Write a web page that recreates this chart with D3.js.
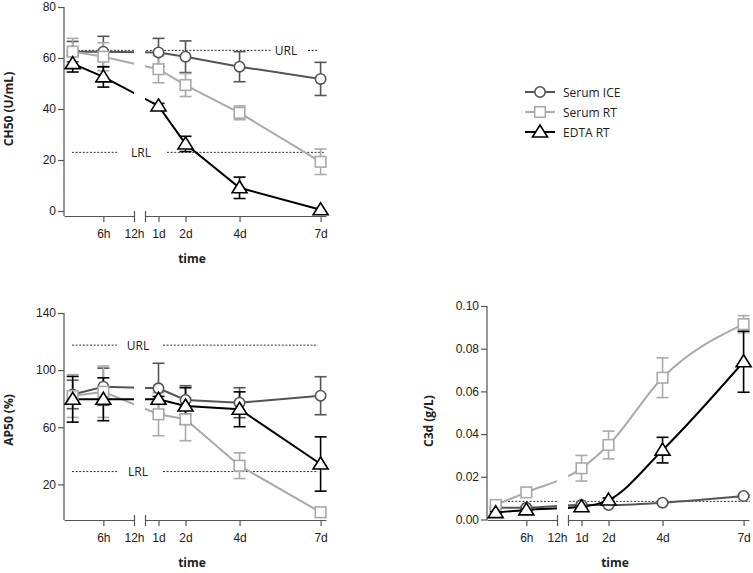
<!DOCTYPE html>
<html>
<head>
<meta charset="utf-8">
<script src="https://cdnjs.cloudflare.com/ajax/libs/d3/7.8.5/d3.min.js"></script>
<style>
  body { margin: 0; background: #fff; }
  svg { font-family: 'Open Sans', sans-serif; }
  .tick text { font-size: 12px; fill: #222; }
  .axis path, .axis line { stroke: #555; stroke-width: 1.2; }
  .title { font-size: 12px; font-weight: bold; fill: #222; }
  .legend text { font-size: 12px; fill: #222; }
</style>
</head>
<body>
<div class="visHolder"></div>
<script>
// sampling times (hours) and axis labels
var sampleHours = [0, 6, 24, 48, 96, 168];
var hourTicks = [6, 12],
    hourTickLabels = ['6h', '12h'];
var dayTicks = [1, 2, 4, 7],
    dayTickLabels = ['1d', '2d', '4d', '7d'];
var seriesNames = ['Serum ICE', 'Serum RT', 'EDTA RT'];

// CH50 (U/mL)
var ch50Ticks = [0, 20, 40, 60, 80];
var ch50Ice = [62.5, 62.5, 62.2, 60.5, 56.6, 51.8],
    ch50IceErr = [4, 6, 5.5, 6.2, 5.9, 6.5];
var ch50Rt = [62.5, 60.5, 55.6, 49.4, 38.5, 19.3],
    ch50RtErr = [5.2, 5.5, 5.3, 4.5, 2.7, 5];
var ch50Edta = [57.8, 52.6, 41.2, 26.3, 9.1, 0.5],
    ch50EdtaErr = [3.3, 4, 1, 3, 4.2, 0];
var ch50Url = 63, ch50Lrl = 23;

// AP50 (%)
var ap50Ticks = [20, 60, 100, 140];
var ap50Ice = [83, 88.4, 87.3, 79.1, 77.2, 82.1],
    ap50IceErr = [10, 13, 17.5, 10, 10.5, 13.3];
var ap50Rt = [81.9, 84.9, 69.1, 65.6, 33.1, 0.5],
    ap50RtErr = [15, 18, 15, 15, 9, 0];
var ap50Edta = [79.6, 79.6, 79.6, 74.9, 72.6, 34.3],
    ap50EdtaErr = [16, 15, 2, 12.8, 12.2, 19];
var ap50Url = 117.5, ap50Lrl = 29;

// C3d (g/L)
var c3dTicks = [0, 0.02, 0.04, 0.06, 0.08, 0.10];
var c3dIce = [0.0055, 0.0055, 0.0068, 0.0068, 0.0079, 0.011],
    c3dIceErr = [0.0005, 0.0005, 0.0005, 0.0005, 0.0005, 0.0005];
var c3dRt = [0.0068, 0.0127, 0.024, 0.0349, 0.0664, 0.0915],
    c3dRtErr = [0.001, 0.001, 0.006, 0.0065, 0.0093, 0.004];
var c3dEdta = [0.0032, 0.0045, 0.006, 0.0091, 0.0325, 0.0739],
    c3dEdtaErr = [0.0005, 0.0005, 0.0005, 0.001, 0.006, 0.0143];
var c3dRef = 0.0085;

var colors = ['#555', '#aaa', '#000'];
var shapes = ['circle', 'square', 'triangle'];

var svg = d3.select('.visHolder')
  .append('svg')
  .attr('width', 753)
  .attr('height', 573);

var panels = [
  { id: 'ch50', title: 'CH50 (U/mL)', axisX: 64, axisY: 216, yDomain: [0, 80], yRange: [211, 7],
    ticks: ch50Ticks, fmt: d3.format('d'), titleX: 13, titleY: 109, curve: d3.curveLinear,
    series: [[ch50Ice, ch50IceErr], [ch50Rt, ch50RtErr], [ch50Edta, ch50EdtaErr]],
    refs: [{ value: ch50Url, label: 'URL', segs: [[3, 208], [244, 254]], labelX: 222 },
           { value: ch50Lrl, label: 'LRL', segs: [[8, 54], [103, 261]], labelX: 77 }] },
  { id: 'ap50', title: 'AP50 (%)', axisX: 64, axisY: 520, yDomain: [0, 140], yRange: [513, 313],
    ticks: ap50Ticks, fmt: d3.format('d'), titleX: 13, titleY: 420, curve: d3.curveLinear,
    series: [[ap50Ice, ap50IceErr], [ap50Rt, ap50RtErr], [ap50Edta, ap50EdtaErr]],
    refs: [{ value: ap50Url, label: 'URL', segs: [[8, 54], [99, 254]], labelX: 74 },
           { value: ap50Lrl, label: 'LRL', segs: [[8, 54], [99, 254]], labelX: 74 }] },
  { id: 'c3d', title: 'C3d (g/L)', axisX: 487, axisY: 520, yDomain: [0, 0.1], yRange: [519.5, 306],
    ticks: c3dTicks, fmt: d3.format('.2f'), titleX: 433, titleY: 421, curve: d3.curveMonotoneX,
    series: [[c3dIce, c3dIceErr], [c3dRt, c3dRtErr], [c3dEdta, c3dEdtaErr]],
    refs: [{ value: c3dRef, label: '', segs: [[3, 263]], labelX: 0 }] }
];

function drawMarker(g, shape, x, y, color) {
  if (shape === 'circle') {
    g.append('circle').attr('cx', x).attr('cy', y).attr('r', 5.2)
      .attr('fill', '#fff').attr('stroke', color).attr('stroke-width', 1.6);
  } else if (shape === 'square') {
    g.append('rect').attr('x', x - 5.3).attr('y', y - 5.3).attr('width', 10.6).attr('height', 10.6)
      .attr('fill', '#fff').attr('stroke', color).attr('stroke-width', 1.6);
  } else {
    g.append('path').attr('d', 'M' + x + ',' + (y - 7) + 'L' + (x + 7.5) + ',' + (y + 5) + 'L' + (x - 7.5) + ',' + (y + 5) + 'Z')
      .attr('fill', '#fff').attr('stroke', color).attr('stroke-width', 1.6);
  }
}

panels.forEach(function(p) {
  var g = svg.append('g').attr('id', p.id);

  // broken time axis: hours up to 12h, then days
  var xHour = d3.scaleLinear().domain([-1.7, 12]).range([p.axisX, p.axisX + 70]);
  var xDay = d3.scaleLinear().domain([0.5, 7.2]).range([p.axisX + 81, p.axisX + 262]);
  var xPos = function(h) { return h <= 12 ? xHour(h) : xDay(h / 24); };
  var y = d3.scaleLinear().domain(p.yDomain).range(p.yRange);

  var clipId = 'clip-' + p.id;
  var clip = svg.append('clipPath').attr('id', clipId);
  clip.append('rect').attr('x', p.axisX - 20).attr('y', 0).attr('width', 90).attr('height', 573);
  clip.append('rect').attr('x', p.axisX + 81).attr('y', 0).attr('width', 200).attr('height', 573);

  // x axes
  var hourAxis = d3.axisBottom(xHour).tickValues(hourTicks).tickSize(6).tickPadding(7.5).tickSizeOuter(0)
    .tickFormat(function(d, i) { return hourTickLabels[i]; });
  var dayAxis = d3.axisBottom(xDay).tickValues([0.5].concat(dayTicks)).tickSize(6).tickPadding(7.5).tickSizeOuter(0)
    .tickFormat(function(d, i) { return i === 0 ? '' : dayTickLabels[i - 1]; });
  [hourAxis, dayAxis].forEach(function(ax) {
    var a = g.append('g').attr('class', 'axis')
      .attr('transform', 'translate(0,' + p.axisY + ')')
      .call(ax);
    a.selectAll('.tick').filter(function(d) { return d === 12 || d === 0.5; })
      .select('line').attr('y1', -5).attr('y2', 6);
  });

  // y axis
  var yAxis = d3.axisLeft(y).tickValues(p.ticks).tickSize(6).tickPadding(2).tickFormat(p.fmt);
  var ya = g.append('g').attr('class', 'axis')
    .attr('transform', 'translate(' + p.axisX + ',0)')
    .call(yAxis);
  ya.select('.domain').remove();
  ya.append('line').attr('x1', 0).attr('x2', 0)
    .attr('y1', p.yRange[1]).attr('y2', p.axisY)
    .attr('stroke', '#555').attr('stroke-width', 1.2);

  g.append('text').attr('class', 'title')
    .attr('transform', 'translate(' + p.titleX + ',' + p.titleY + ') rotate(-90)')
    .attr('text-anchor', 'middle')
    .text(p.title);
  g.append('text').attr('class', 'title')
    .attr('x', p.axisX + 128).attr('y', p.axisY + 47)
    .attr('text-anchor', 'middle')
    .text('time');

  // reference limits
  p.refs.forEach(function(r) {
    r.segs.forEach(function(s) {
      g.append('line')
        .attr('x1', p.axisX + s[0]).attr('x2', p.axisX + s[1])
        .attr('y1', y(r.value)).attr('y2', y(r.value))
        .attr('stroke', '#333').attr('stroke-width', 1)
        .attr('stroke-dasharray', '2,1.6')
        .attr('clip-path', 'url(#' + clipId + ')');
    });
    if (r.label) {
      g.append('text')
        .attr('x', p.axisX + r.labelX).attr('y', y(r.value) + 4.5)
        .attr('text-anchor', 'middle')
        .attr('font-size', '12px').attr('fill', '#222')
        .text(r.label);
    }
  });

  var line = d3.line()
    .x(function(d, i) { return xPos(sampleHours[i]); })
    .y(function(d) { return y(d); })
    .curve(p.curve);

  p.series.forEach(function(s, k) {
    g.append('path')
      .datum(s[0])
      .attr('d', line)
      .attr('fill', 'none')
      .attr('stroke', colors[k])
      .attr('stroke-width', 2)
      .attr('clip-path', 'url(#' + clipId + ')');
  });

  p.series.forEach(function(s, k) {
    var eg = g.append('g');
    s[0].forEach(function(v, i) {
      var e = s[1][i];
      if (!e) return;
      var x = xPos(sampleHours[i]);
      eg.append('line').attr('x1', x).attr('x2', x).attr('y1', y(v - e)).attr('y2', y(v + e));
      eg.append('line').attr('x1', x - 6).attr('x2', x + 6).attr('y1', y(v - e)).attr('y2', y(v - e));
      eg.append('line').attr('x1', x - 6).attr('x2', x + 6).attr('y1', y(v + e)).attr('y2', y(v + e));
    });
    eg.selectAll('line').attr('stroke', colors[k]).attr('stroke-width', 1.6);
  });

  p.series.forEach(function(s, k) {
    var mg = g.append('g');
    s[0].forEach(function(v, i) {
      drawMarker(mg, shapes[k], xPos(sampleHours[i]), y(v), colors[k]);
    });
  });
});

// legend
var legend = svg.append('g').attr('class', 'legend');
seriesNames.forEach(function(name, k) {
  var ly = 92 + k * 20;
  legend.append('line').attr('x1', 525).attr('x2', 555).attr('y1', ly).attr('y2', ly)
    .attr('stroke', colors[k]).attr('stroke-width', 2);
  drawMarker(legend, shapes[k], 540, ly, colors[k]);
  legend.append('text').attr('x', 563).attr('y', ly + 4.5).text(name);
});
</script>
</body>
</html>
